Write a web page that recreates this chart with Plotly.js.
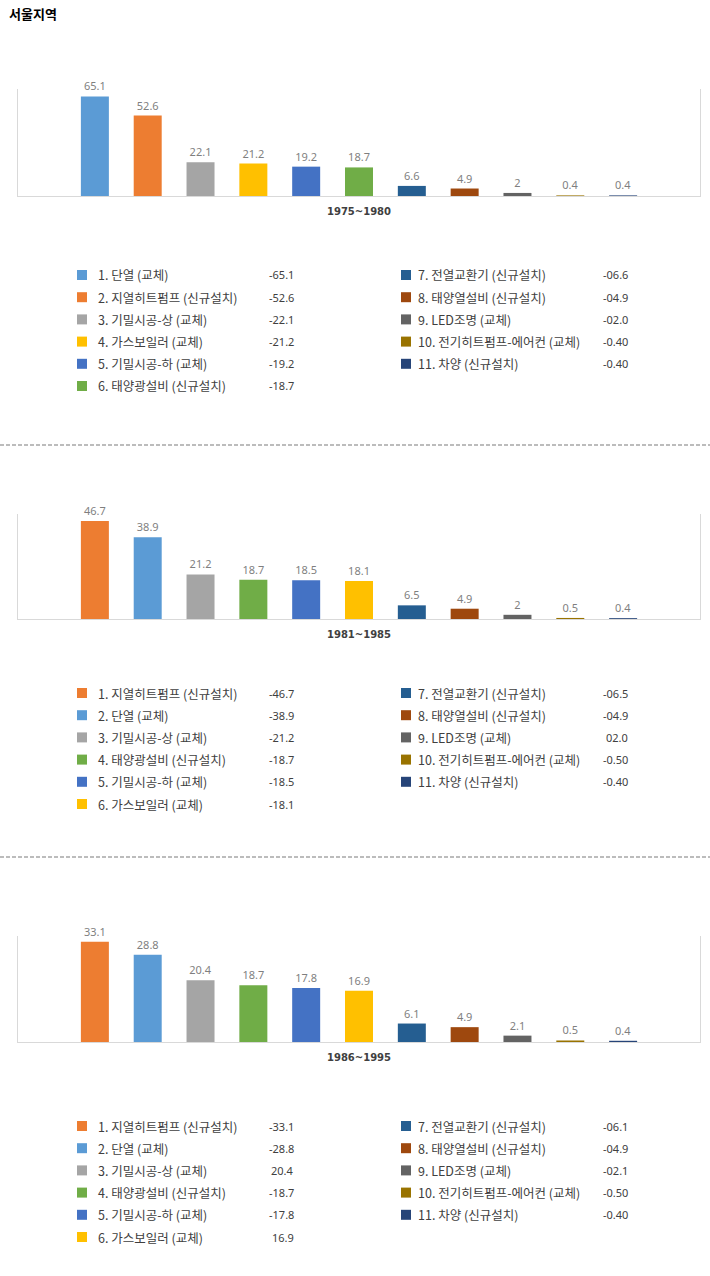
<!DOCTYPE html>
<html>
<head>
<meta charset="utf-8">
<script src="https://cdn.plot.ly/plotly-3.0.1.min.js"></script>
<style>
  html, body { margin: 0; padding: 0; background: #ffffff; }
  #chart { width: 710px; height: 1276px; }
</style>
</head>
<body>
<div id="chart"></div>
<script>
// ---------- DATA ----------
const periods = ['1975~1980', '1981~1985', '1986~1995'];

const names1 = ['단열 (교체)', '지열히트펌프 (신규설치)', '기밀시공-상 (교체)', '가스보일러 (교체)', '기밀시공-하 (교체)', '태양광설비 (신규설치)', '전열교환기 (신규설치)', '태양열설비 (신규설치)', 'LED조명 (교체)', '전기히트펌프-에어컨 (교체)', '차양 (신규설치)'];
const values1 = [65.1, 52.6, 22.1, 21.2, 19.2, 18.7, 6.6, 4.9, 2, 0.4, 0.4];
const legendVals1 = ['-65.1', '-52.6', '-22.1', '-21.2', '-19.2', '-18.7', '-06.6', '-04.9', '-02.0', '-0.40', '-0.40'];

const names2 = ['지열히트펌프 (신규설치)', '단열 (교체)', '기밀시공-상 (교체)', '태양광설비 (신규설치)', '기밀시공-하 (교체)', '가스보일러 (교체)', '전열교환기 (신규설치)', '태양열설비 (신규설치)', 'LED조명 (교체)', '전기히트펌프-에어컨 (교체)', '차양 (신규설치)'];
const values2 = [46.7, 38.9, 21.2, 18.7, 18.5, 18.1, 6.5, 4.9, 2, 0.5, 0.4];
const legendVals2 = ['-46.7', '-38.9', '-21.2', '-18.7', '-18.5', '-18.1', '-06.5', '-04.9', '02.0', '-0.50', '-0.40'];

const names3 = ['지열히트펌프 (신규설치)', '단열 (교체)', '기밀시공-상 (교체)', '태양광설비 (신규설치)', '기밀시공-하 (교체)', '가스보일러 (교체)', '전열교환기 (신규설치)', '태양열설비 (신규설치)', 'LED조명 (교체)', '전기히트펌프-에어컨 (교체)', '차양 (신규설치)'];
const values3 = [33.1, 28.8, 20.4, 18.7, 17.8, 16.9, 6.1, 4.9, 2.1, 0.5, 0.4];
const legendVals3 = ['-33.1', '-28.8', '20.4', '-18.7', '-17.8', '16.9', '-06.1', '-04.9', '-02.1', '-0.50', '-0.40'];

const yMax = [70, 50, 35];

// ---------- STYLE ----------
const colorMap = {
  '단열 (교체)': '#5B9BD5',
  '지열히트펌프 (신규설치)': '#ED7D31',
  '기밀시공-상 (교체)': '#A5A5A5',
  '가스보일러 (교체)': '#FFC000',
  '기밀시공-하 (교체)': '#4472C4',
  '태양광설비 (신규설치)': '#70AD47',
  '전열교환기 (신규설치)': '#255E91',
  '태양열설비 (신규설치)': '#9E480E',
  'LED조명 (교체)': '#636363',
  '전기히트펌프-에어컨 (교체)': '#997300',
  '차양 (신규설치)': '#264478'
};

const W = 710, H = 1276;
const px = x => x / W;
const py = y => 1 - y / H;

const charts = [
  { names: names1, values: values1, legendVals: legendVals1, top: 89, bottom: 196, legendTop: 275 },
  { names: names2, values: values2, legendVals: legendVals2, top: 514, bottom: 619, legendTop: 693 },
  { names: names3, values: values3, legendVals: legendVals3, top: 936, bottom: 1042, legendTop: 1126 }
];

const KR = '"Noto Sans CJK KR", "Noto Sans", sans-serif';
const traces = [];
const shapes = [];
const annotations = [];
const layout = {
  width: W, height: H,
  margin: { l: 0, r: 0, t: 0, b: 0 },
  paper_bgcolor: '#ffffff',
  plot_bgcolor: '#ffffff',
  showlegend: false,
  barmode: 'group',
  bargap: 0.148,
  bargroupgap: 0.47,
  font: { family: KR, color: '#404040' },
  title: {
    text: '<b>서울지역</b>',
    x: px(9), xanchor: 'left', xref: 'paper',
    y: py(14), yanchor: 'middle', yref: 'paper',
    font: { family: KR, size: 13, color: '#000000' }
  },
  shapes: shapes,
  annotations: annotations
};

charts.forEach((c, k) => {
  const sx = k === 0 ? '' : String(k + 1);
  const xa = 'x' + sx, ya = 'y' + sx;
  c.names.forEach((n, i) => {
    traces.push({
      type: 'bar',
      x: [periods[k]],
      y: [c.values[i]],
      name: n,
      xaxis: xa, yaxis: ya,
      marker: { color: colorMap[n] },
      text: [String(c.values[i])],
      textposition: 'outside',
      cliponaxis: false,
      constraintext: 'none',
      textfont: { family: '"Noto Sans", sans-serif', size: 11, color: '#7f7f7f' },
      hoverinfo: 'skip'
    });
  });
  layout['xaxis' + sx] = {
    domain: [px(18), px(700)],
    anchor: ya,
    type: 'category',
    range: [-0.5, 0.5],
    showline: true, linecolor: '#d9d9d9', linewidth: 1,
    showgrid: false, zeroline: false,
    ticks: '', ticklen: 0,
    ticklabelstandoff: 6,
    tickfont: { family: '"DejaVu Sans", sans-serif', size: 10, color: '#404040', weight: 'bold' },
    fixedrange: true
  };
  layout['yaxis' + sx] = {
    domain: [py(c.bottom), py(c.top)],
    anchor: xa,
    range: [0, yMax[k]],
    showline: true, mirror: true, linecolor: '#d9d9d9', linewidth: 1,
    showgrid: false, zeroline: false,
    showticklabels: false, ticks: '',
    fixedrange: true
  };

  // custom legend table
  const rowH = 22.2;
  c.names.forEach((n, i) => {
    const col = i < 6 ? 0 : 1;
    const row = i < 6 ? i : i - 6;
    const yc = c.legendTop + row * rowH;
    const sqX = col === 0 ? 77 : 401;
    const txX = col === 0 ? 96 : 416;
    const vX = col === 0 ? 296 : 630;
    shapes.push({
      type: 'rect', xref: 'paper', yref: 'paper',
      x0: px(sqX), x1: px(sqX + 10), y0: py(yc + 5), y1: py(yc - 5),
      fillcolor: colorMap[n], line: { width: 0 }
    });
    annotations.push({
      xref: 'paper', yref: 'paper',
      x: px(txX), y: py(yc), xanchor: 'left', yanchor: 'middle',
      text: (i + 1) + '. ' + n, showarrow: false,
      font: { family: KR, size: 12.5, color: '#404040' }
    });
    annotations.push({
      xref: 'paper', yref: 'paper',
      x: px(vX), y: py(yc), xanchor: 'right', yanchor: 'middle',
      text: c.legendVals[i], showarrow: false,
      font: { family: '"Noto Sans", sans-serif', size: 11, color: '#404040' }
    });
  });
});

// dashed separators
[445, 857].forEach(y => {
  shapes.push({
    type: 'line', xref: 'paper', yref: 'paper',
    x0: 0, x1: 1, y0: py(y), y1: py(y),
    line: { color: '#a6a6a6', width: 1.5, dash: '4px,2px' }
  });
});

Plotly.newPlot('chart', traces, layout, { displayModeBar: false, staticPlot: true });
</script>
</body>
</html>
